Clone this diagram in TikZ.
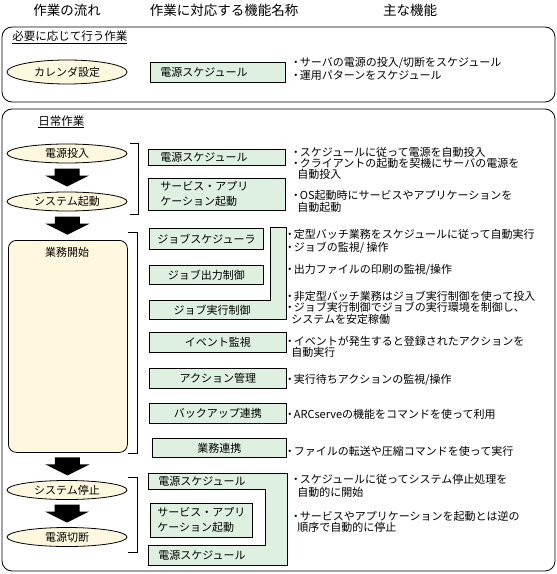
\documentclass[tikz,border=0pt]{standalone}
\usepackage{fontspec}
\setmainfont{Noto Sans CJK JP}
\usetikzlibrary{shapes.geometric,calc}
\definecolor{yel}{RGB}{255,248,222}
\definecolor{grn}{RGB}{222,240,224}
\newcommand\bu{\makebox[6.5bp][l]{\hspace{-3bp}・}}
\newcommand\fd{\fontsize{11bp}{11.5bp}\selectfont}
\newcommand\fb{\fontsize{11bp}{15bp}\selectfont}
\newcommand\fh{\fontsize{13.5bp}{16bp}\selectfont}
\begin{document}
\begin{tikzpicture}[x=1bp,y=-1bp, line width=0.8bp,
  flow/.style={ellipse, draw, fill=yel, minimum width=120bp, minimum height=19bp, inner sep=0pt, font=\fb},
  gbox/.style={draw, fill=grn, anchor=north west, inner sep=0pt, font=\fb},
  lbox/.style={gbox, align=left, inner xsep=10bp},
  desc/.style={anchor=west, inner sep=0pt, font=\fd, text height=9bp, text depth=1.5bp},
  hdr/.style={font=\fh, inner sep=0pt},
  ttl/.style={anchor=west, inner sep=0pt, font=\fontsize{11.5bp}{13bp}\selectfont},
  lbl/.style={inner sep=0pt, font=\fb},
  blockarrow/.pic={\fill[black] (-12.5,-9) rectangle (12.5,-2) (-22,-2) -- (22,-2) -- (0,9) -- cycle;},
  brk/.style={line width=0.8bp}
]
\useasboundingbox (0,0) rectangle (557,574);

% headers
\node[hdr] (h1) at (67,10) {作業の流れ};
\node[hdr] (h2) at (224,10) {作業に対応する機能名称};
\node[hdr] (h3) at (410,10) {主な機能};

% ---------- section 1 ----------
\draw[rounded corners=10bp] (2,27) rectangle (555,102);
\node[ttl] (t1) at (12,37) {\underline{必要に応じて行う作業}};
\node[flow, minimum height=24bp] (cal) at (67,72) {カレンダ設定};
\node[lbox, minimum width=135bp, minimum height=20bp, text width=115bp] (b1) at (150,62) {電源スケジュール};
\node[desc] (d11) at (293,63) {\bu サーバの電源の投入/切断をスケジュール};
\node[desc] (d12) at (293,76) {\bu 運用パターンをスケジュール};

% ---------- section 2 ----------
\draw[rounded corners=10bp] (2,109) rectangle (555,571);
\node[ttl] (t2) at (38,122) {\underline{日常作業}};

% flow column
\node[flow] (e1) at (67,153.5) {電源投入};
\node[flow] (e2) at (67,201.5) {システム起動};
\node[draw, fill=yel, rounded corners=8bp, anchor=north west, minimum width=119bp, minimum height=212bp, inner sep=0pt] (job) at (8,240) {};
\node[lbl] (jobt) at (67,252) {業務開始};
\node[flow] (e3) at (67,490) {システム停止};
\node[flow] (e4) at (67,537) {電源切断};

\pic at ($(e1.south)!0.5!(e2.north)$) {blockarrow};
\pic at ($(e2.south)!0.5!(job.north)$) {blockarrow};
\pic at ($(job.south)!0.5!(e3.north)$) {blockarrow};
\pic at ($(e3.south)!0.5!(e4.north)$) {blockarrow};

% brackets
\draw[brk] (130,143) -- (138,143) -- (138,214) -- (130,214);
\draw[brk] (128,232) -- (137,232) -- (137,453) -- (128,453);
\draw[brk] (128,477) -- (137,477) -- (137,552) -- (128,552);

% upper function boxes
\node[lbox, inner xsep=12bp, minimum width=137bp, minimum height=16bp, text width=113bp] (b2) at (148,149) {電源スケジュール};
\node[lbox, inner xsep=12bp, minimum width=137bp, minimum height=32bp, text width=113bp] (b3) at (148,178) {サービス・アプリ\\ケーション起動};

\node[desc] (d21) at (293,153) {\bu スケジュールに従って電源を自動投入};
\node[desc] (d22) at (293,164) {\bu クライアントの起動を契機にサーバの電源を};
\node[desc] (d23) at (297,175) {自動投入};
\node[desc] (d24) at (293,196) {\bu OS起動時にサービスやアプリケーションを};
\node[desc] (d25) at (297,208) {自動起動};

% middle function boxes
\node[gbox, minimum width=114bp, minimum height=21bp] (b4) at (149,228) {ジョブスケジューラ};
\node[gbox, minimum width=114bp, minimum height=19bp] (b5) at (149,265) {ジョブ出力制御};
\draw[fill=grn] (270,227) -- (286,227) -- (286,319) -- (149,319) -- (149,300) -- (270,300) -- cycle;
\node[lbl] (b6) at (212,310) {ジョブ実行制御};
\node[gbox, minimum width=137bp, minimum height=20bp] (b7) at (149,332) {イベント監視};
\node[gbox, minimum width=137bp, minimum height=20bp] (b8) at (149,368) {アクション管理};
\node[gbox, minimum width=137bp, minimum height=20bp] (b9) at (149,403) {バックアップ連携};
\node[gbox, minimum width=134bp, minimum height=19bp] (b10) at (152,438) {業務連携};

\node[desc] (d31) at (287,235) {\bu 定型バッチ業務をスケジュールに従って自動実行};
\node[desc] (d32) at (287,248) {\bu ジョブの監視/ 操作};
\node[desc] (d33) at (287,270) {\bu 出力ファイルの印刷の監視/操作};
\node[desc] (d34) at (287,297) {\bu 非定型バッチ業務はジョブ実行制御を使って投入};
\node[desc] (d35) at (287,308) {\bu ジョブ実行制御でジョブの実行環境を制御し、};
\node[desc] (d36) at (291,320) {システムを安定稼働};
\node[desc] (d37) at (287,342) {\bu イベントが発生すると登録されたアクションを};
\node[desc] (d38) at (291,353) {自動実行};
\node[desc] (d39) at (287,380) {\bu 実行待ちアクションの監視/操作};
\node[desc] (d40) at (287,415) {\bu ARCserveの機能をコマンドを使って利用};
\node[desc] (d41) at (287,452) {\bu ファイルの転送や圧縮コマンドを使って実行};

% lower function boxes
\draw[fill=grn] (148,473) -- (287,473) -- (287,565) -- (148,565) -- (148,545) -- (265,545) -- (265,489) -- (148,489) -- cycle;
\node[lbl, anchor=west] (b11) at (158,481) {電源スケジュール};
\node[lbl, anchor=west] (b13) at (158,555) {電源スケジュール};
\node[lbox, inner xsep=7bp, minimum width=102bp, minimum height=34bp, text width=88bp] (b12) at (150,503) {サービス・アプリ\\ケーション起動};

\node[desc] (d51) at (293,480) {\bu スケジュールに従ってシステム停止処理を};
\node[desc] (d52) at (297,493) {自動的に開始};
\node[desc] (d53) at (293,517) {\bu サービスやアプリケーションを起動とは逆の};
\node[desc] (d54) at (297,528) {順序で自動的に停止};
\end{tikzpicture}
\end{document}
